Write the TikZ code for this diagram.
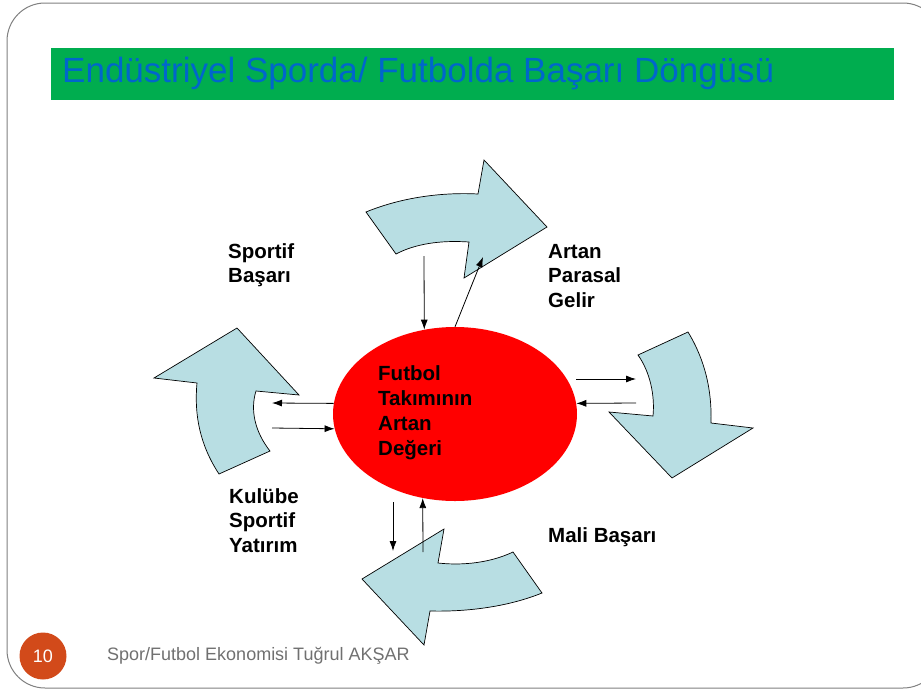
\documentclass[tikz,border=0pt]{standalone}
\usepackage{fontspec}
\setmainfont{Liberation Sans}
\usepackage{tikz}
\usetikzlibrary{shapes,arrows.meta,calc}
\definecolor{titlegreen}{RGB}{0,173,79}
\definecolor{titleblue}{RGB}{0,102,204}
\definecolor{cyclefill}{RGB}{184,222,227}
\definecolor{pageorange}{RGB}{210,74,26}
\definecolor{footgray}{RGB}{112,112,112}
\definecolor{framegray}{RGB}{128,128,128}
\begin{document}
\begin{tikzpicture}[x=1pt,y=-1pt,>={Latex[length=10pt,width=7pt]},
  label/.style={inner sep=0pt, anchor=base west, align=left, font=\fontsize{20.5}{24.5}\selectfont\bfseries},
  cyclearrow/.style={draw=black, line width=0.7pt, fill=cyclefill},
  link/.style={->, line width=0.8pt}]
  \useasboundingbox (0,0) rectangle (921,691);
  % frame and title
  \draw[framegray, line width=1pt, rounded corners=38pt] (7,3) rectangle (941,688);
  \fill[titlegreen] (51,48) rectangle (894,100);
  \node[anchor=base west, inner sep=0pt, text=titleblue, font=\fontsize{35}{35}\selectfont] (title) at (62,82) {Endüstriyel Sporda/ Futbolda Başarı Döngüsü};
  % cycle arrows
  \draw[cyclearrow] (366,212) .. controls (400,198) and (440,192) .. (478,194) -- (484,160) -- (547,227) -- (464,278) -- (469,242) .. controls (440,240) and (415,244) .. (396,254) -- cycle;
  \draw[cyclearrow] (237,328) -- (154,378) -- (197,383) .. controls (194,415) and (200,445) .. (219,474) -- (270,451) .. controls (255,432) and (250,410) .. (256,391) -- (299,395) -- cycle;
  \draw[cyclearrow] (638,355) -- (688,332) .. controls (705,360) and (712,390) .. (711,423) -- (753,428) -- (672,478) -- (609,412) -- (653,416) .. controls (655,395) and (650,372) .. (638,355) -- cycle;
  \draw[cyclearrow] (362,579) -- (444,529) -- (438,563) .. controls (465,566) and (492,562) .. (513,552) -- (542,593) .. controls (510,606) and (470,612) .. (430,611) -- (424,645) -- cycle;
  % Nodes (base = last line)
  \node[ellipse, fill=red, minimum width=244pt, minimum height=174pt, inner sep=0pt] (value) at (455,414) {};
  \node[label, font=\fontsize{20.5}{25}\selectfont\bfseries] (valuetext) at (378,455) {Futbol\\Takımının\\Artan\\Değeri};
  \node[label] (sportif) at (228,282.5) {Sportif\\Başarı};
  \node[label] (gelir) at (548,307) {Artan\\Parasal\\Gelir};
  \node[label] (yatirim) at (229,552) {Kulübe\\Sportif\\Yatırım};
  \node[label] (mali) at (548,542) {Mali Başarı};
  \node[circle, fill=pageorange, minimum size=47pt, inner sep=0pt, text=white, font=\fontsize{18}{18}\selectfont] (pagenum) at (43,656) {10};
  \node[anchor=base west, inner sep=0pt, text=footgray, font=\fontsize{18}{18}\selectfont] (footer) at (107,660) {Spor/Futbol Ekonomisi Tuğrul AKŞAR};
  % coordinates
  \coordinate (ttop) at (424,256);
  \coordinate (tret) at (483,257);
  \coordinate (lout) at (272,403);
  \coordinate (lin) at (272,428);
  \coordinate (rstart) at (576,379);
  \coordinate (rout) at (636,379);
  \coordinate (rin) at (636,403);
  \coordinate (bstart) at (393,502);
  \coordinate (bout) at (393,551);
  \coordinate (bin) at (423,552);
  % Edges
  \draw[link] (ttop) -- (value.110);
  \draw[link] (value.north) -- (tret);
  \draw[link] (value.175) -- (lout);
  \draw[link] (lin) -- (value.187);
  \draw[link] (rstart) -- (rout);
  \draw[link] (rin) -- (value.5);
  \draw[link] (bstart) -- (bout);
  \draw[link] (bin) -- (value.249);
\end{tikzpicture}
\end{document}
